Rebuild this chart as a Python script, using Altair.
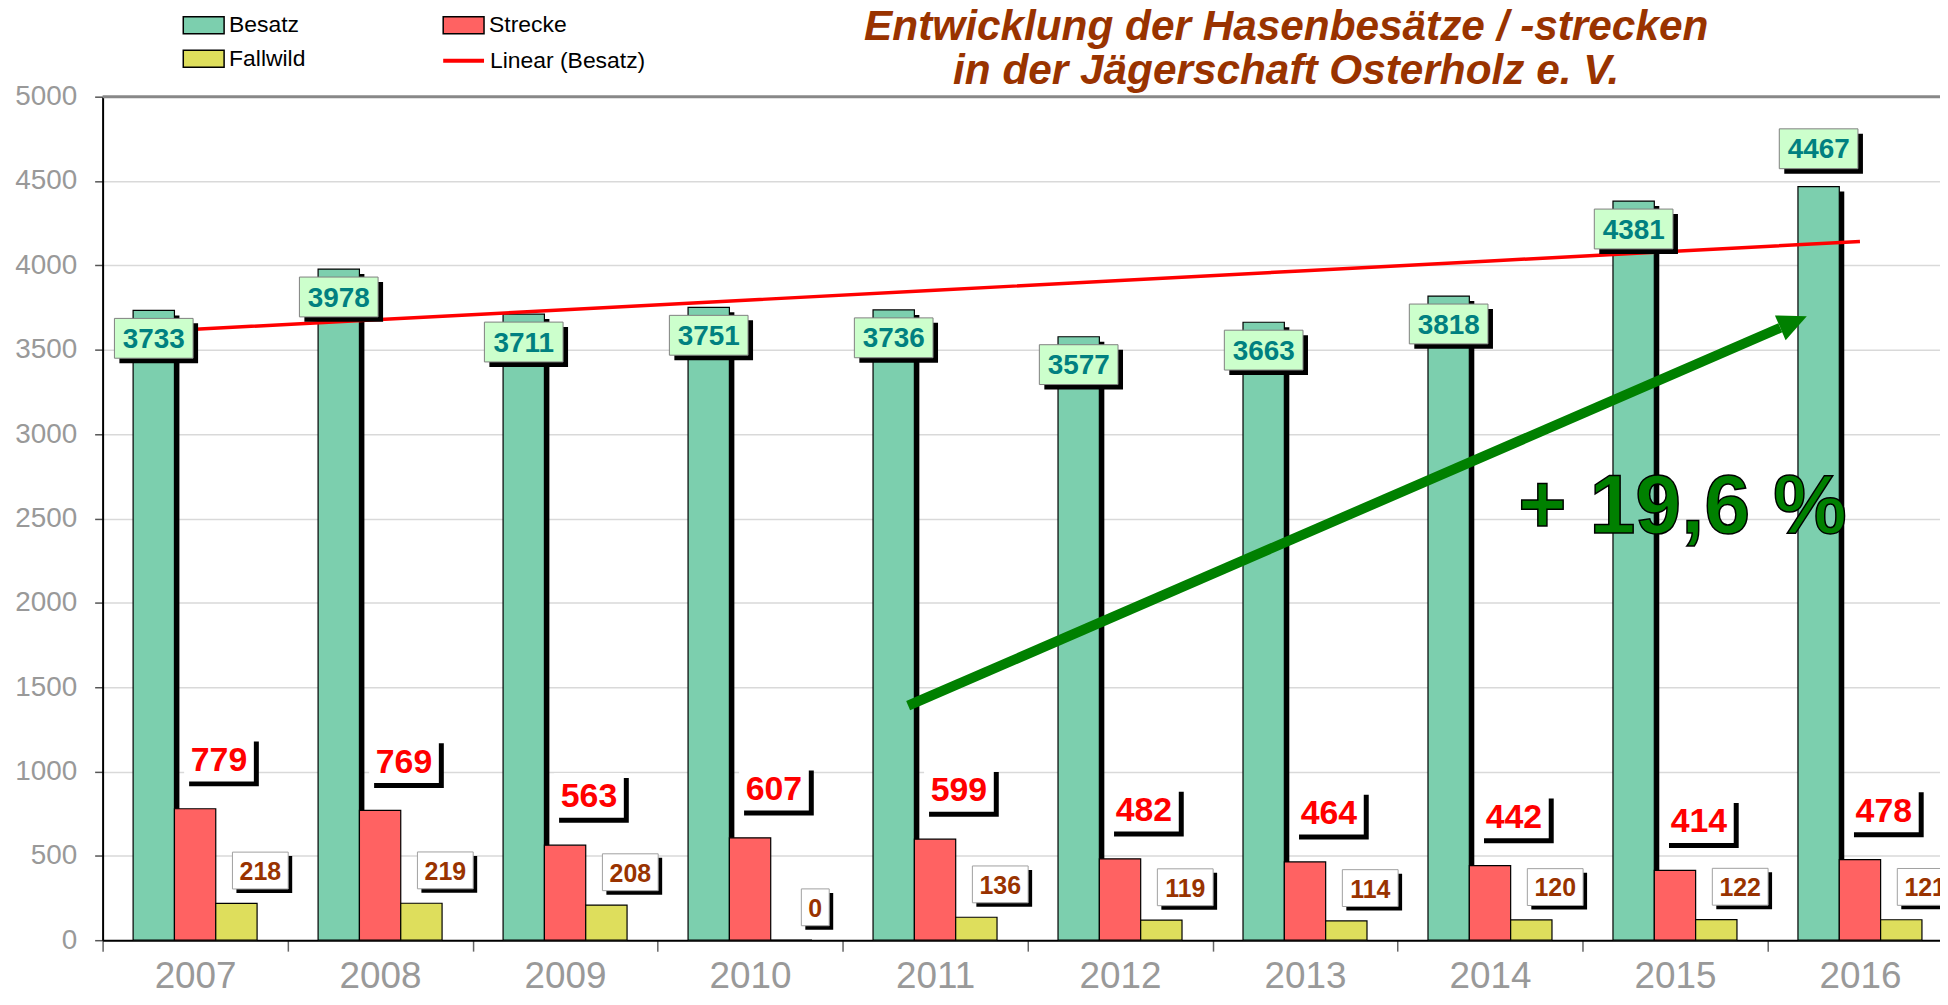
import numpy as np
import pandas as pd
import altair as alt

# ---------------- data ----------------
years = ["2007", "2008", "2009", "2010", "2011", "2012", "2013", "2014", "2015", "2016"]
besatz = [3733, 3978, 3711, 3751, 3736, 3577, 3663, 3818, 4381, 4467]
strecke = [779, 769, 563, 607, 599, 482, 464, 442, 414, 478]
fallwild = [218, 219, 208, 0, 136, 119, 114, 120, 122, 121]
series_names = ["Besatz", "Strecke", "Fallwild"]
legend_order = ["Besatz", "Fallwild", "Strecke"]
trend_name = "Linear (Besatz)"
title_lines = ["Entwicklung der Hasenbesätze / -strecken",
               "in der Jägerschaft Osterholz e. V."]
y_ticks = list(range(0, 5001, 500))

# growth annotation (arrow from 2011 to 2016)
arrow_years = ["2011", "2016"]
arrow_values = [1390, 3630]
arrow_label_year = "2015"
arrow_label_value = 2590

# ---------------- derived tables ----------------
idx = np.arange(len(years))
slope, intercept = np.polyfit(idx, besatz, 1)
trend = intercept + slope * idx
i0 = years.index(arrow_years[0])
i1 = years.index(arrow_years[1])
growth = (besatz[i1] - besatz[i0]) / besatz[i0] * 100
growth_text = "+ " + f"{growth:.1f}".replace(".", ",") + " %"

rows = []
for s, vals in zip(series_names, [besatz, strecke, fallwild]):
    for y, v in zip(years, vals):
        rows.append({"year": y, "series": s, "value": v, "label": str(v)})
bars_df = pd.DataFrame(rows)
trend_df = pd.DataFrame({"year": years, "value": trend, "name": [trend_name] * len(years)})
arrow_df = pd.DataFrame({"year": [arrow_years[0]], "year2": [arrow_years[1]],
                         "value": [arrow_values[0]], "value2": [arrow_values[1]]})
arrow_label_df = pd.DataFrame({"year": [arrow_label_year], "value": [arrow_label_value],
                               "text": [growth_text]})
top_df = pd.DataFrame({"value": [y_ticks[-1]]})

# ---------------- style ----------------
FONT = "Liberation Sans"
W, H = 1845, 847
RANGE_W = 1857.5
BAR_W = 41.5
OFF = {"Besatz": -BAR_W, "Strecke": 0.0, "Fallwild": BAR_W}
FILL_OF = {"Besatz": "#7ccfae", "Strecke": "#ff6262", "Fallwild": "#dede5c"}
BESATZ_LABEL_ABOVE = ["2016"]

x_scale = alt.Scale(domain=years, range=[0, RANGE_W], paddingInner=0, paddingOuter=0)
y_scale = alt.Scale(domain=[0, 5000], nice=False)
x_axis = alt.Axis(title=None, labelFont=FONT, labelFontSize=37, labelColor="#999999",
                  labelPadding=8, tickSize=11, tickColor="#666666", tickWidth=1.5,
                  tickBand="extent", domainColor="black", domainWidth=2, grid=False,
                  labelAngle=0)
y_axis = alt.Axis(title=None, values=y_ticks, format="d", labelFont=FONT, labelFontSize=28,
                  labelColor="#999999", labelPadding=18, tickSize=8, tickColor="#555555",
                  tickWidth=1.5, domainColor="black", domainWidth=2, grid=True,
                  gridColor="#d9d9d9", gridWidth=1.5)


def X(field="year"):
    return alt.X(f"{field}:N", scale=x_scale, axis=x_axis, sort=years, title=None)


def Y(field="value"):
    return alt.Y(f"{field}:Q", scale=y_scale, axis=y_axis, title=None)


fill_legend = alt.Legend(title=None, orient="none", legendX=80, legendY=-93.5, columns=2,
                         columnPadding=135, rowPadding=-6,
                         symbolType="M-1,-0.415H1V0.415H-1Z", symbolSize=1681,
                         symbolStrokeColor="black", symbolStrokeWidth=1.5,
                         labelFont=FONT, labelFontSize=23, labelColor="black",
                         labelOffset=4, padding=0)
line_legend = alt.Legend(title=None, orient="none", legendX=340, legendY=-58.5,
                         symbolType="stroke", symbolSize=1681, symbolStrokeWidth=4,
                         labelFont=FONT, labelFontSize=23, labelColor="black",
                         labelOffset=4, padding=0)
fill_enc = alt.Fill("series:N",
                    scale=alt.Scale(domain=legend_order,
                                    range=[FILL_OF[s] for s in legend_order]),
                    legend=fill_legend)

layers = []

# plot-area top border
layers.append(alt.Chart(top_df).mark_rule(color="#888888", strokeWidth=3).encode(y=Y()))

base = alt.Chart(bars_df)
# Besatz shadow
layers.append(base.transform_filter("datum.series == 'Besatz'")
              .mark_bar(width=BAR_W, xOffset=OFF["Besatz"] + 5, yOffset=5, y2Offset=0,
                        color="black")
              .encode(x=X(), y=Y(), y2=alt.Y2(datum=0)))
for s in series_names:
    layers.append(base.transform_filter(f"datum.series == '{s}'")
                  .mark_bar(width=BAR_W, xOffset=OFF[s], stroke="black", strokeWidth=1.2)
                  .encode(x=X(), y=Y(), fill=fill_enc))

# trend line
layers.append(alt.Chart(trend_df).mark_line(strokeWidth=3.5)
              .encode(x=X(), y=Y(),
                      stroke=alt.Stroke("name:N",
                                        scale=alt.Scale(domain=[trend_name], range=["#ff0000"]),
                                        legend=line_legend)))


def label_layers(flt, xoff, yc, w, h, box_fill, box_stroke, sd, text_color, fs):
    b = alt.Chart(bars_df).transform_filter(flt)
    out = [
        b.mark_bar(width=w, xOffset=xoff + sd, yOffset=yc - h / 2 + sd,
                   y2Offset=yc + h / 2 + sd, color="black")
        .encode(x=X(), y=Y(), y2=alt.Y2("value")),
    ]
    kw = dict(width=w, xOffset=xoff, yOffset=yc - h / 2, y2Offset=yc + h / 2, fill=box_fill)
    if box_stroke:
        kw.update(stroke=box_stroke, strokeWidth=1)
    out.append(b.mark_bar(**kw).encode(x=X(), y=Y(), y2=alt.Y2("value")))
    out.append(b.mark_text(xOffset=xoff, yOffset=yc + 0.058 * fs, font=FONT, fontSize=fs,
                           fontWeight="bold", color=text_color, baseline="middle",
                           align="center")
               .encode(x=X(), y=Y(), text="label:N"))
    return out


above = "[" + ",".join(f"'{y}'" for y in BESATZ_LABEL_ABOVE) + "]"
layers += label_layers(f"datum.series == 'Besatz' && indexof({above}, datum.year) < 0",
                       OFF["Besatz"], 28, 79, 40, "#ccffcc", "#808080", 5, "#008080", 28)
layers += label_layers(f"datum.series == 'Besatz' && indexof({above}, datum.year) >= 0",
                       OFF["Besatz"], -38, 79, 40, "#ccffcc", "#808080", 5, "#008080", 28)
layers += label_layers("datum.series == 'Strecke'",
                       OFF["Strecke"] + 24, -50, 70, 45, "white", None, 5, "#ff0000", 34)
layers += label_layers("datum.series == 'Fallwild' && datum.value >= 10",
                       OFF["Fallwild"] + 24, -33, 56, 37, "white", "#a0a0a0", 4, "#993300", 25)
layers += label_layers("datum.series == 'Fallwild' && datum.value < 10",
                       OFF["Fallwild"] + 24, -33, 28, 37, "white", "#a0a0a0", 4, "#993300", 25)

# growth arrow
layers.append(alt.Chart(arrow_df).mark_rule(xOffset=-27, x2Offset=-80, strokeWidth=10,
                                            color="#008000", strokeCap="butt")
              .encode(x=X(), x2=alt.X2("year2"), y=Y(), y2=alt.Y2("value2")))
layers.append(alt.Chart(arrow_df).mark_point(shape="M0,-0.93L2,0L0,0.93Z", size=841,
                                             filled=True, color="#008000", opacity=1,
                                             angle=336.6, xOffset=-80)
              .encode(x=X("year2"), y=Y("value2")))
layers.append(alt.Chart(arrow_label_df).mark_text(xOffset=7.5, yOffset=5, font=FONT,
                                                  fontSize=83, fontWeight="bold",
                                                  fill="#008000", stroke="black",
                                                  strokeWidth=1.5, baseline="middle",
                                                  align="center")
              .encode(x=X(), y=Y(), text="text:N"))

title = alt.TitleParams(text=title_lines, font=FONT, fontSize=42.5, fontStyle="italic",
                        fontWeight="bold", color="#993300", anchor="middle", frame="group",
                        baseline="top", dx=266, dy=89, offset=0, lineHeight=44)

chart = (alt.layer(*layers)
         .properties(width=W, height=H, title=title,
                     autosize=alt.AutoSizeParams(type="none"),
                     padding={"left": 95, "top": 87, "right": 0, "bottom": 55})
         .configure_view(stroke=None)
         .configure(font=FONT))

chart.save("out.html", embed_options={"renderer": "svg", "actions": False})
